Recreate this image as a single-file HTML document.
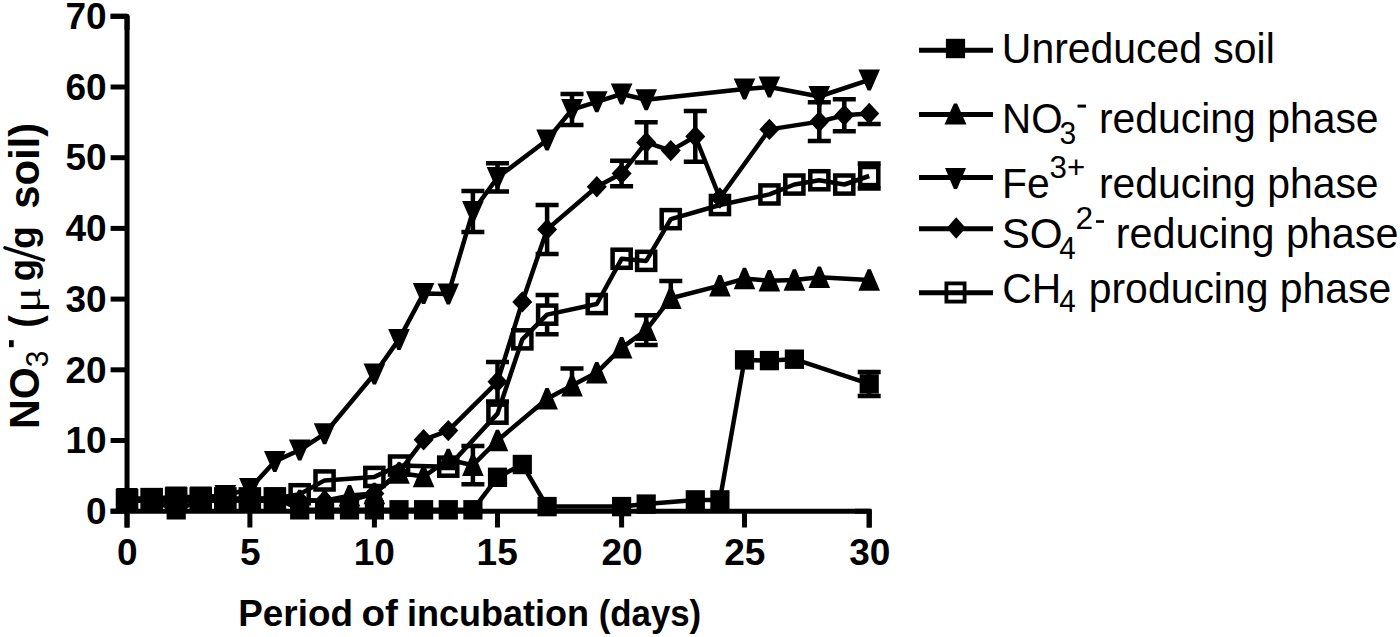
<!DOCTYPE html>
<html><head><meta charset="utf-8"><style>
html,body{margin:0;padding:0;background:#fff;width:1400px;height:637px;overflow:hidden}
svg{display:block}
text{fill:#000}
</style></head><body>
<svg width="1400" height="637" viewBox="0 0 1400 637">
<rect width="1400" height="637" fill="#fff"/>
<path d="M127.05 16.25V527.5" stroke="#000" stroke-width="5" fill="none"/>
<path d="M110.6 511.2 H871.7" stroke="#000" stroke-width="5" fill="none"/>
<path d="M110.6 511.2H127" stroke="#000" stroke-width="5" fill="none"/>
<path d="M110.6 440.5H127" stroke="#000" stroke-width="5" fill="none"/>
<path d="M110.6 369.8H127" stroke="#000" stroke-width="5" fill="none"/>
<path d="M110.6 299.1H127" stroke="#000" stroke-width="5" fill="none"/>
<path d="M110.6 228.4H127" stroke="#000" stroke-width="5" fill="none"/>
<path d="M110.6 157.7H127" stroke="#000" stroke-width="5" fill="none"/>
<path d="M110.6 87H127" stroke="#000" stroke-width="5" fill="none"/>
<path d="M110.6 16.3H127" stroke="#000" stroke-width="5" fill="none"/>
<path d="M127 511.2V527.5" stroke="#000" stroke-width="5" fill="none"/>
<path d="M249.9 511.2V527.5" stroke="#000" stroke-width="5" fill="none"/>
<path d="M374.4 511.2V527.5" stroke="#000" stroke-width="5" fill="none"/>
<path d="M497.5 511.2V527.5" stroke="#000" stroke-width="5" fill="none"/>
<path d="M621.6 511.2V527.5" stroke="#000" stroke-width="5" fill="none"/>
<path d="M744.5 511.2V527.5" stroke="#000" stroke-width="5" fill="none"/>
<path d="M869.2 511.2V527.5" stroke="#000" stroke-width="5" fill="none"/>
<path d="M110.6 16.25H127.05V30" stroke="#000" stroke-width="5" fill="none" stroke-linejoin="round"/>
<path d="M855 511.2H869.2V527.5" stroke="#000" stroke-width="5" fill="none" stroke-linejoin="round"/>
<g fill="#000"><polyline points="127,500.6 151.6,500.6 176.2,509.8 200.8,500.6 225.3,500.6 249.9,500.6 274.8,497.1 299.7,509.8 324.6,509.8 349.5,509.8 374.4,509.8 399,509.8 423.6,509.8 448.3,509.8 472.9,509.8 497.5,477.3 522.3,464.5 547.1,506.6 621.6,506.6 646.2,504.1 695.3,499.9 719.9,499.9 744.5,359.9 769.4,360.6 794.4,359.2 869.2,383.9" fill="none" stroke="#000" stroke-width="4.5" stroke-linejoin="round"/><path d="M869.2 371.9V395.9M857.7 371.9H880.7M857.7 395.9H880.7" stroke="#000" stroke-width="4.5" fill="none"/><rect x="117.5" y="490.9" width="19.2" height="19.4"/><rect x="142" y="490.9" width="19.2" height="19.4"/><rect x="166.6" y="500.1" width="19.2" height="19.4"/><rect x="191.2" y="490.9" width="19.2" height="19.4"/><rect x="215.7" y="490.9" width="19.2" height="19.4"/><rect x="240.3" y="490.9" width="19.2" height="19.4"/><rect x="265.2" y="487.4" width="19.2" height="19.4"/><rect x="290.1" y="500.1" width="19.2" height="19.4"/><rect x="315" y="500.1" width="19.2" height="19.4"/><rect x="339.9" y="500.1" width="19.2" height="19.4"/><rect x="364.8" y="500.1" width="19.2" height="19.4"/><rect x="389.4" y="500.1" width="19.2" height="19.4"/><rect x="414" y="500.1" width="19.2" height="19.4"/><rect x="438.7" y="500.1" width="19.2" height="19.4"/><rect x="463.3" y="500.1" width="19.2" height="19.4"/><rect x="487.9" y="467.6" width="19.2" height="19.4"/><rect x="512.7" y="454.8" width="19.2" height="19.4"/><rect x="537.5" y="496.9" width="19.2" height="19.4"/><rect x="612" y="496.9" width="19.2" height="19.4"/><rect x="636.6" y="494.4" width="19.2" height="19.4"/><rect x="685.7" y="490.2" width="19.2" height="19.4"/><rect x="710.3" y="490.2" width="19.2" height="19.4"/><rect x="734.9" y="350.2" width="19.2" height="19.4"/><rect x="759.8" y="350.9" width="19.2" height="19.4"/><rect x="784.8" y="349.5" width="19.2" height="19.4"/><rect x="859.6" y="374.2" width="19.2" height="19.4"/><polyline points="127,500.6 151.6,500.6 176.2,500.6 200.8,500.6 225.3,500.6 249.9,500.6 274.8,500.6 299.7,500.6 324.6,500.6 349.5,495.6 374.4,493.5 399,473 423.6,476.6 448.3,459.6 472.9,465.2 497.5,440.5 547.1,398.8 572,385.6 596.8,372.6 621.6,347.9 646.2,330.2 670.8,298.2 719.9,285.6 744.5,278.6 769.4,280.7 794.4,280 819.3,277.2 869.2,280" fill="none" stroke="#000" stroke-width="4.5" stroke-linejoin="round"/><path d="M472.9 446.1V484.3M461.4 446.1H484.4M461.4 484.3H484.4" stroke="#000" stroke-width="4.5" fill="none"/><path d="M572 368.4V385.6M560.5 368.4H583.5" stroke="#000" stroke-width="4.5" fill="none"/><path d="M646.2 315.3V345M634.7 315.3H657.7M634.7 345H657.7" stroke="#000" stroke-width="4.5" fill="none"/><path d="M670.8 281V298.2M659.3 281H682.3" stroke="#000" stroke-width="4.5" fill="none"/><path d="M125.5 489.8H128.7L137.8 511.3H116.2Z"/><path d="M150 489.8H153.2L162.4 511.3H140.8Z"/><path d="M174.6 489.8H177.8L187 511.3H165.4Z"/><path d="M199.2 489.8H202.4L211.6 511.3H190Z"/><path d="M223.7 489.8H226.9L236.1 511.3H214.5Z"/><path d="M248.3 489.8H251.5L260.7 511.3H239.1Z"/><path d="M273.2 489.8H276.4L285.6 511.3H264Z"/><path d="M298.1 489.8H301.3L310.5 511.3H288.9Z"/><path d="M323 489.8H326.2L335.4 511.3H313.8Z"/><path d="M347.9 484.9H351.1L360.3 506.4H338.7Z"/><path d="M372.8 482.8H376L385.2 504.3H363.6Z"/><path d="M397.4 462.3H400.6L409.8 483.8H388.2Z"/><path d="M422 465.8H425.2L434.4 487.3H412.8Z"/><path d="M446.7 448.8H449.9L459.1 470.3H437.5Z"/><path d="M471.3 454.5H474.5L483.7 476H462.1Z"/><path d="M495.9 429.7H499.1L508.3 451.2H486.7Z"/><path d="M545.5 388H548.7L557.9 409.5H536.3Z"/><path d="M570.4 374.9H573.6L582.8 396.4H561.2Z"/><path d="M595.2 361.9H598.4L607.6 383.4H586Z"/><path d="M620 337.1H623.2L632.4 358.6H610.8Z"/><path d="M644.6 319.4H647.8L657 340.9H635.4Z"/><path d="M669.2 287.4H672.4L681.6 308.9H660Z"/><path d="M718.3 274.9H721.5L730.7 296.4H709.1Z"/><path d="M742.9 267.8H746.1L755.3 289.3H733.7Z"/><path d="M767.8 269.9H771L780.2 291.4H758.6Z"/><path d="M792.8 269.2H796L805.2 290.7H783.6Z"/><path d="M817.7 266.4H820.9L830.1 287.9H808.5Z"/><path d="M867.6 269.2H870.8L880 290.7H858.4Z"/><polyline points="127,498.5 151.6,498.5 176.2,497.1 200.8,497.1 225.3,495.6 249.9,488.6 274.8,461.4 299.7,450 324.6,433.8 374.4,374 399,339.4 423.6,293.4 448.3,294.1 472.9,211.4 497.5,177.5 547.1,140 572,109.6 596.8,101.8 621.6,94 646.2,99.7 744.5,89.1 769.4,87 819.3,96.5 869.2,79.9" fill="none" stroke="#000" stroke-width="4.5" stroke-linejoin="round"/><path d="M472.9 190.9V231.9M461.4 190.9H484.4M461.4 231.9H484.4" stroke="#000" stroke-width="4.5" fill="none"/><path d="M497.5 163.3V191.6M486 163.3H509M486 191.6H509" stroke="#000" stroke-width="4.5" fill="none"/><path d="M572 94V125.1M560.5 94H583.5M560.5 125.1H583.5" stroke="#000" stroke-width="4.5" fill="none"/><path d="M116.2 488H137.8L128.7 509H125.5Z"/><path d="M140.8 488H162.4L153.2 509H150Z"/><path d="M165.4 486.6H187L177.8 507.6H174.6Z"/><path d="M190 486.6H211.6L202.4 507.6H199.2Z"/><path d="M214.5 485.1H236.1L226.9 506.1H223.7Z"/><path d="M239.1 478.1H260.7L251.5 499.1H248.3Z"/><path d="M264 450.9H285.6L276.4 471.9H273.2Z"/><path d="M288.9 439.5H310.5L301.3 460.5H298.1Z"/><path d="M313.8 423.3H335.4L326.2 444.3H323Z"/><path d="M363.6 363.5H385.2L376 384.5H372.8Z"/><path d="M388.2 328.9H409.8L400.6 349.9H397.4Z"/><path d="M412.8 282.9H434.4L425.2 303.9H422Z"/><path d="M437.5 283.6H459.1L449.9 304.6H446.7Z"/><path d="M462.1 200.9H483.7L474.5 221.9H471.3Z"/><path d="M486.7 167H508.3L499.1 188H495.9Z"/><path d="M536.3 129.5H557.9L548.7 150.5H545.5Z"/><path d="M561.2 99.1H582.8L573.6 120.1H570.4Z"/><path d="M586 91.3H607.6L598.4 112.3H595.2Z"/><path d="M610.8 83.5H632.4L623.2 104.5H620Z"/><path d="M635.4 89.2H657L647.8 110.2H644.6Z"/><path d="M733.7 78.6H755.3L746.1 99.6H742.9Z"/><path d="M758.6 76.5H780.2L771 97.5H767.8Z"/><path d="M808.5 86H830.1L820.9 107H817.7Z"/><path d="M858.4 69.4H880L870.8 90.4H867.6Z"/><polyline points="127,500.6 151.6,500.6 176.2,500.6 200.8,500.6 225.3,500.6 249.9,500.6 274.8,500.6 299.7,500.6 324.6,500.6 349.5,500.6 374.4,493.5 399,472.3 423.6,439.8 448.3,430.6 497.5,381.8 522.3,301.9 547.1,229.4 596.8,186.7 621.6,173.6 646.2,142.4 670.8,150.6 695.3,136.5 719.9,198 769.4,129.4 819.3,121.6 844.3,115.2 869.2,113.5" fill="none" stroke="#000" stroke-width="4.5" stroke-linejoin="round"/><path d="M497.5 362V401.6M486 362H509M486 401.6H509" stroke="#000" stroke-width="4.5" fill="none"/><path d="M547.1 205V253.9M535.6 205H558.6M535.6 253.9H558.6" stroke="#000" stroke-width="4.5" fill="none"/><path d="M621.6 160.8V186.3M610.1 160.8H633.1M610.1 186.3H633.1" stroke="#000" stroke-width="4.5" fill="none"/><path d="M646.2 122.2V162.5M634.7 122.2H657.7M634.7 162.5H657.7" stroke="#000" stroke-width="4.5" fill="none"/><path d="M695.3 111.1V161.8M683.8 111.1H706.8M683.8 161.8H706.8" stroke="#000" stroke-width="4.5" fill="none"/><path d="M819.3 102.2V141M807.8 102.2H830.8M807.8 141H830.8" stroke="#000" stroke-width="4.5" fill="none"/><path d="M844.3 99.2V131.3M832.8 99.2H855.8M832.8 131.3H855.8" stroke="#000" stroke-width="4.5" fill="none"/><path d="M869.2 113.5V123.9M857.7 123.9H880.7" stroke="#000" stroke-width="4.5" fill="none"/><path d="M127 489.9L137.1 500.6L127 511.3L117 500.6Z"/><path d="M151.6 489.9L161.6 500.6L151.6 511.3L141.6 500.6Z"/><path d="M176.2 489.9L186.2 500.6L176.2 511.3L166.2 500.6Z"/><path d="M200.8 489.9L210.8 500.6L200.8 511.3L190.8 500.6Z"/><path d="M225.3 489.9L235.3 500.6L225.3 511.3L215.3 500.6Z"/><path d="M249.9 489.9L259.9 500.6L249.9 511.3L239.9 500.6Z"/><path d="M274.8 489.9L284.8 500.6L274.8 511.3L264.8 500.6Z"/><path d="M299.7 489.9L309.7 500.6L299.7 511.3L289.7 500.6Z"/><path d="M324.6 489.9L334.6 500.6L324.6 511.3L314.6 500.6Z"/><path d="M349.5 489.9L359.5 500.6L349.5 511.3L339.5 500.6Z"/><path d="M374.4 482.8L384.4 493.5L374.4 504.2L364.4 493.5Z"/><path d="M399 461.6L409 472.3L399 483L389 472.3Z"/><path d="M423.6 429.1L433.6 439.8L423.6 450.5L413.6 439.8Z"/><path d="M448.3 419.9L458.3 430.6L448.3 441.3L438.3 430.6Z"/><path d="M497.5 371.1L507.5 381.8L497.5 392.5L487.5 381.8Z"/><path d="M522.3 291.2L532.3 301.9L522.3 312.6L512.3 301.9Z"/><path d="M547.1 218.7L557.1 229.4L547.1 240.1L537.1 229.4Z"/><path d="M596.8 176L606.8 186.7L596.8 197.4L586.8 186.7Z"/><path d="M621.6 162.9L631.6 173.6L621.6 184.3L611.6 173.6Z"/><path d="M646.2 131.7L656.2 142.4L646.2 153.1L636.2 142.4Z"/><path d="M670.8 139.9L680.8 150.6L670.8 161.3L660.8 150.6Z"/><path d="M695.3 125.8L705.3 136.5L695.3 147.2L685.3 136.5Z"/><path d="M719.9 187.3L729.9 198L719.9 208.7L709.9 198Z"/><path d="M769.4 118.7L779.4 129.4L769.4 140.1L759.4 129.4Z"/><path d="M819.3 110.9L829.3 121.6L819.3 132.3L809.3 121.6Z"/><path d="M844.3 104.5L854.3 115.2L844.3 125.9L834.3 115.2Z"/><path d="M869.2 102.8L879.2 113.5L869.2 124.2L859.2 113.5Z"/><polyline points="127,500.2 151.6,499.2 176.2,498.5 200.8,498.5 225.3,498.5 249.9,498.5 274.8,498.5 299.7,494.2 324.6,480.4 374.4,476.9 399,465.6 448.3,466.7 497.5,413.6 522.3,339.4 547.1,314.6 596.8,304 621.6,258.8 646.2,260.9 670.8,219.2 719.9,205 769.4,194.4 794.4,184.5 819.3,180.3 844.3,184.5 869.2,176" fill="none" stroke="#000" stroke-width="4.5" stroke-linejoin="round"/><path d="M547.1 295V306.6M547.1 322.6V334.2M535.6 295H558.6M535.6 334.2H558.6" stroke="#000" stroke-width="4.5" fill="none"/><path d="M869.2 163.5V168M869.2 184V188.6M857.7 163.5H880.7M857.7 188.6H880.7" stroke="#000" stroke-width="4.5" fill="none"/><rect x="118" y="491.2" width="18.1" height="18.1" fill="#fff" fill-opacity="0" stroke="#000" stroke-width="4.5"/><rect x="142.6" y="490.1" width="18.1" height="18.1" fill="#fff" fill-opacity="0" stroke="#000" stroke-width="4.5"/><rect x="167.1" y="489.4" width="18.1" height="18.1" fill="#fff" fill-opacity="0" stroke="#000" stroke-width="4.5"/><rect x="191.7" y="489.4" width="18.1" height="18.1" fill="#fff" fill-opacity="0" stroke="#000" stroke-width="4.5"/><rect x="216.3" y="489.4" width="18.1" height="18.1" fill="#fff" fill-opacity="0" stroke="#000" stroke-width="4.5"/><rect x="240.8" y="489.4" width="18.1" height="18.1" fill="#fff" fill-opacity="0" stroke="#000" stroke-width="4.5"/><rect x="265.8" y="489.4" width="18.1" height="18.1" fill="#fff" fill-opacity="0" stroke="#000" stroke-width="4.5"/><rect x="290.6" y="485.2" width="18.1" height="18.1" fill="#fff" fill-opacity="0" stroke="#000" stroke-width="4.5"/><rect x="315.5" y="471.4" width="18.1" height="18.1" fill="#fff" fill-opacity="0" stroke="#000" stroke-width="4.5"/><rect x="365.3" y="467.9" width="18.1" height="18.1" fill="#fff" fill-opacity="0" stroke="#000" stroke-width="4.5"/><rect x="390" y="456.5" width="18.1" height="18.1" fill="#fff" fill-opacity="0" stroke="#000" stroke-width="4.5"/><rect x="439.2" y="457.6" width="18.1" height="18.1" fill="#fff" fill-opacity="0" stroke="#000" stroke-width="4.5"/><rect x="488.4" y="404.6" width="18.1" height="18.1" fill="#fff" fill-opacity="0" stroke="#000" stroke-width="4.5"/><rect x="513.3" y="330.3" width="18.1" height="18.1" fill="#fff" fill-opacity="0" stroke="#000" stroke-width="4.5"/><rect x="538.1" y="305.6" width="18.1" height="18.1" fill="#fff" fill-opacity="0" stroke="#000" stroke-width="4.5"/><rect x="587.7" y="295" width="18.1" height="18.1" fill="#fff" fill-opacity="0" stroke="#000" stroke-width="4.5"/><rect x="612.6" y="249.7" width="18.1" height="18.1" fill="#fff" fill-opacity="0" stroke="#000" stroke-width="4.5"/><rect x="637.1" y="251.8" width="18.1" height="18.1" fill="#fff" fill-opacity="0" stroke="#000" stroke-width="4.5"/><rect x="661.7" y="210.1" width="18.1" height="18.1" fill="#fff" fill-opacity="0" stroke="#000" stroke-width="4.5"/><rect x="710.9" y="196" width="18.1" height="18.1" fill="#fff" fill-opacity="0" stroke="#000" stroke-width="4.5"/><rect x="760.4" y="185.4" width="18.1" height="18.1" fill="#fff" fill-opacity="0" stroke="#000" stroke-width="4.5"/><rect x="785.3" y="175.5" width="18.1" height="18.1" fill="#fff" fill-opacity="0" stroke="#000" stroke-width="4.5"/><rect x="810.3" y="171.2" width="18.1" height="18.1" fill="#fff" fill-opacity="0" stroke="#000" stroke-width="4.5"/><rect x="835.2" y="175.5" width="18.1" height="18.1" fill="#fff" fill-opacity="0" stroke="#000" stroke-width="4.5"/><rect x="860.2" y="167" width="18.1" height="18.1" fill="#fff" fill-opacity="0" stroke="#000" stroke-width="4.5"/></g>
<g fill="#000"><path d="M919 50.2H993" stroke="#000" stroke-width="5" fill="none"/><rect x="945.9" y="38.8" width="19.2" height="19.4"/><path d="M919 114.5H993" stroke="#000" stroke-width="5" fill="none"/><path d="M953.9 103.5H957.1L966.5 124.5H944.5Z"/><path d="M919 177.6H993" stroke="#000" stroke-width="5" fill="none"/><path d="M945 168.1H966L957.1 189.1H953.9Z"/><path d="M919 228.7H993" stroke="#000" stroke-width="5" fill="none"/><path d="M956.2 217.2L965.7 228L956.2 238.8L946.7 228Z"/><path d="M919 292.8H993" stroke="#000" stroke-width="5" fill="none"/><rect x="946.4" y="283.4" width="18.2" height="18.2" fill="#fff" fill-opacity="0" stroke="#000" stroke-width="3.8"/></g>
<text transform="translate(86.04 524.00) scale(1.0000 1)" style="font-family:'Liberation Sans',sans-serif;font-weight:bold;font-size:37px">0</text>
<text transform="translate(65.51 453.29) scale(1.0000 1)" style="font-family:'Liberation Sans',sans-serif;font-weight:bold;font-size:37px">10</text>
<text transform="translate(65.51 382.59) scale(1.0000 1)" style="font-family:'Liberation Sans',sans-serif;font-weight:bold;font-size:37px">20</text>
<text transform="translate(65.51 311.88) scale(1.0000 1)" style="font-family:'Liberation Sans',sans-serif;font-weight:bold;font-size:37px">30</text>
<text transform="translate(65.51 241.17) scale(1.0000 1)" style="font-family:'Liberation Sans',sans-serif;font-weight:bold;font-size:37px">40</text>
<text transform="translate(65.51 170.46) scale(1.0000 1)" style="font-family:'Liberation Sans',sans-serif;font-weight:bold;font-size:37px">50</text>
<text transform="translate(65.51 99.76) scale(1.0000 1)" style="font-family:'Liberation Sans',sans-serif;font-weight:bold;font-size:37px">60</text>
<text transform="translate(65.51 29.05) scale(1.0000 1)" style="font-family:'Liberation Sans',sans-serif;font-weight:bold;font-size:37px">70</text>
<text transform="translate(117.08 564.50) scale(1.0000 1)" style="font-family:'Liberation Sans',sans-serif;font-weight:bold;font-size:37px">0</text>
<text transform="translate(239.89 564.50) scale(1.0000 1)" style="font-family:'Liberation Sans',sans-serif;font-weight:bold;font-size:37px">5</text>
<text transform="translate(353.75 564.50) scale(1.0000 1)" style="font-family:'Liberation Sans',sans-serif;font-weight:bold;font-size:37px">10</text>
<text transform="translate(476.62 564.50) scale(1.0000 1)" style="font-family:'Liberation Sans',sans-serif;font-weight:bold;font-size:37px">15</text>
<text transform="translate(601.46 564.50) scale(1.0000 1)" style="font-family:'Liberation Sans',sans-serif;font-weight:bold;font-size:37px">20</text>
<text transform="translate(724.13 564.50) scale(1.0000 1)" style="font-family:'Liberation Sans',sans-serif;font-weight:bold;font-size:37px">25</text>
<text transform="translate(849.29 564.50) scale(1.0000 1)" style="font-family:'Liberation Sans',sans-serif;font-weight:bold;font-size:37px">30</text>
<text transform="translate(238.31 625.50) scale(0.9958 1)" style="font-family:'Liberation Sans',sans-serif;font-weight:bold;font-size:37px">Period</text>
<text transform="translate(361.46 625.50) scale(1.0423 1)" style="font-family:'Liberation Sans',sans-serif;font-weight:bold;font-size:37px">of</text>
<text transform="translate(406.98 625.50) scale(0.9741 1)" style="font-family:'Liberation Sans',sans-serif;font-weight:bold;font-size:37px">incubation</text>
<text transform="translate(598.66 625.50) scale(0.9414 1)" style="font-family:'Liberation Sans',sans-serif;font-weight:bold;font-size:37px">(days)</text>
<text transform="translate(38.60 428.88) rotate(-90) scale(0.9570 1)" style="font-family:'Liberation Sans',sans-serif;font-weight:bold;font-size:43px">NO</text>
<text transform="translate(47.60 367.21) rotate(-90) scale(0.9276 1)" style="font-family:'Liberation Sans',sans-serif;font-weight:normal;font-size:32px">3</text>
<rect x="9" y="340.2" width="4.7" height="7"/>
<text transform="translate(38.60 327.56) rotate(-90) scale(0.8844 1)" style="font-family:'Liberation Sans',sans-serif;font-weight:bold;font-size:42px">(</text>
<text transform="translate(40.00 313.09) rotate(-90) scale(1.2169 1)" style="font-family:'Liberation Serif',serif;font-weight:normal;font-size:40px">μ</text>
<text transform="translate(35.30 281.16) rotate(-90) scale(0.9847 1)" style="font-family:'Liberation Sans',sans-serif;font-weight:bold;font-size:37px">g</text>
<path d="M5 247.8L43.5 260" stroke="#000" stroke-width="3.4" stroke-linecap="round"/>
<text transform="translate(35.30 249.10) rotate(-90) scale(1.0115 1)" style="font-family:'Liberation Sans',sans-serif;font-weight:bold;font-size:37px">g</text>
<text transform="translate(38.60 208.76) rotate(-90) scale(0.9715 1)" style="font-family:'Liberation Sans',sans-serif;font-weight:bold;font-size:43px">soil)</text>
<text transform="translate(1001.83 62.90) scale(0.9516 1)" style="font-family:'Liberation Sans',sans-serif;font-weight:normal;font-size:43px">Unreduced soil</text>
<text transform="translate(1002.07 133.30) scale(0.9387 1)" style="font-family:'Liberation Sans',sans-serif;font-weight:normal;font-size:43px">NO</text>
<text transform="translate(1059.57 144.00) scale(0.9408 1)" style="font-family:'Liberation Sans',sans-serif;font-weight:normal;font-size:32px">3</text>
<rect x="1077.5" y="104.6" width="8.5" height="3"/>
<text transform="translate(1098.94 133.30) scale(0.9513 1)" style="font-family:'Liberation Sans',sans-serif;font-weight:normal;font-size:43px">reducing phase</text>
<text transform="translate(1002.03 198.30) scale(0.9504 1)" style="font-family:'Liberation Sans',sans-serif;font-weight:normal;font-size:43px">Fe</text>
<text transform="translate(1049.53 178.30) scale(0.9768 1)" style="font-family:'Liberation Sans',sans-serif;font-weight:normal;font-size:32px">3+</text>
<text transform="translate(1098.94 198.30) scale(0.9513 1)" style="font-family:'Liberation Sans',sans-serif;font-weight:normal;font-size:43px">reducing phase</text>
<text transform="translate(1001.70 247.50) scale(0.9818 1)" style="font-family:'Liberation Sans',sans-serif;font-weight:normal;font-size:43px">SO</text>
<text transform="translate(1059.33 258.60) scale(0.9282 1)" style="font-family:'Liberation Sans',sans-serif;font-weight:normal;font-size:32px">4</text>
<text transform="translate(1075.42 229.30) scale(0.9890 1)" style="font-family:'Liberation Sans',sans-serif;font-weight:normal;font-size:32px">2</text>
<rect x="1096" y="220.2" width="8" height="2.6"/>
<text transform="translate(1115.81 247.50) scale(0.9617 1)" style="font-family:'Liberation Sans',sans-serif;font-weight:normal;font-size:43px">reducing phase</text>
<text transform="translate(1002.26 303.10) scale(0.9497 1)" style="font-family:'Liberation Sans',sans-serif;font-weight:normal;font-size:43px">CH</text>
<text transform="translate(1059.33 312.00) scale(0.9282 1)" style="font-family:'Liberation Sans',sans-serif;font-weight:normal;font-size:32px">4</text>
<text transform="translate(1088.74 303.10) scale(0.9516 1)" style="font-family:'Liberation Sans',sans-serif;font-weight:normal;font-size:43px">producing phase</text>
</svg>
</body></html>
